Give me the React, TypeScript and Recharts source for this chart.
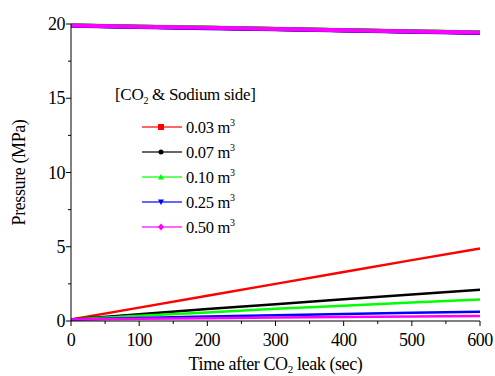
import React from "react";
import { LineChart, Line, XAxis, YAxis } from "recharts";

const times = [0, 100, 200, 300, 400, 500, 600];
const volumes = ["0.03", "0.07", "0.10", "0.25", "0.50"];
const colors = ["#ff0000", "#000000", "#00ff00", "#0000ff", "#ff00ff"];
const markers = ["square", "circle", "triangle", "triangleDown", "diamond"];

// CO2 side (low-pressure rising)
const co2_003 = [0.1, 0.9, 1.7, 2.5, 3.3, 4.1, 4.88];
const co2_007 = [0.1, 0.45, 0.8, 1.13, 1.47, 1.78, 2.1];
const co2_010 = [0.1, 0.35, 0.58, 0.82, 1.03, 1.24, 1.45];
const co2_025 = [0.1, 0.2, 0.3, 0.38, 0.47, 0.55, 0.63];
const co2_050 = [0.1, 0.15, 0.19, 0.23, 0.27, 0.3, 0.33];
// Sodium side (high-pressure falling)
const na_003 = [19.9, 19.82, 19.74, 19.66, 19.58, 19.5, 19.43];
const na_007 = [19.9, 19.82, 19.74, 19.66, 19.58, 19.5, 19.43];
const na_010 = [19.92, 19.84, 19.76, 19.68, 19.6, 19.52, 19.45];
const na_025 = [19.88, 19.8, 19.72, 19.64, 19.56, 19.48, 19.4];
const na_050 = [19.9, 19.82, 19.74, 19.66, 19.58, 19.5, 19.42];

const co2Series = [co2_003, co2_007, co2_010, co2_025, co2_050];
const naSeries = [na_003, na_007, na_010, na_025, na_050];

const xTicks = [0, 50, 100, 150, 200, 250, 300, 350, 400, 450, 500, 550, 600];
const yTicks = [0, 2.5, 5, 7.5, 10, 12.5, 15, 17.5, 20];

const data = times.map((t, i) => {
  const row: any = { t };
  co2Series.forEach((s, k) => (row["c" + k] = s[i]));
  naSeries.forEach((s, k) => (row["n" + k] = s[i]));
  return row;
});

const FONT = "Liberation Serif, Times New Roman, serif";

const XTick = (props: any) => {
  const { x, y, payload } = props;
  const major = payload.value % 100 === 0;
  return (
    <g>
      <line x1={x} y1={y} x2={x} y2={y + (major ? 5 : 3)} stroke="#000" strokeWidth={1} />
      {major && (
        <text x={x} y={y + 25} textAnchor="middle" style={{ fontFamily: FONT, fontSize: 18, letterSpacing: -0.5 }} fill="#000">
          {payload.value}
        </text>
      )}
    </g>
  );
};

const YTick = (props: any) => {
  const { x, y, payload } = props;
  const major = payload.value % 5 === 0;
  return (
    <g>
      <line x1={x} y1={y} x2={x - (major ? 5 : 3)} y2={y} stroke="#000" strokeWidth={1} />
      {major && (
        <text x={x - 6} y={y + 6} textAnchor="end" style={{ fontFamily: FONT, fontSize: 18, letterSpacing: -0.5 }} fill="#000">
          {payload.value}
        </text>
      )}
    </g>
  );
};

const Marker = ({ type, color }: { type: string; color: string }) => {
  const cx = 20, cy = 6;
  let m: any = null;
  if (type === "square") m = <rect x={cx - 3} y={cy - 3} width={6} height={6} fill={color} />;
  else if (type === "circle") m = <circle cx={cx} cy={cy} r={2.5} fill={color} />;
  else if (type === "triangle") m = <polygon points={`${cx - 3},${cy + 2.5} ${cx + 3},${cy + 2.5} ${cx},${cy - 3}`} fill={color} />;
  else if (type === "triangleDown") m = <polygon points={`${cx - 3},${cy - 2.5} ${cx + 3},${cy - 2.5} ${cx},${cy + 3}`} fill={color} />;
  else m = <polygon points={`${cx},${cy - 3.5} ${cx + 3},${cy} ${cx},${cy + 3.5} ${cx - 3},${cy}`} fill={color} />;
  return (
    <svg width={42} height={12} style={{ display: "block" }}>
      <line x1={1} y1={cy} x2={41} y2={cy} stroke={color} strokeOpacity={0.6} strokeWidth={2} />
      {m}
    </svg>
  );
};

const LegendBox = () => (
  <div style={{ position: "absolute", left: 115, top: 86, fontFamily: FONT, color: "#000", lineHeight: 1 }}>
    <div style={{ fontSize: 17, height: 28, whiteSpace: "nowrap", letterSpacing: -0.3 }}>
      [CO<sub style={{ fontSize: 10 }}>2</sub> &amp; Sodium side]
    </div>
    {volumes.map((v, i) => (
      <div key={v} style={{ display: "flex", alignItems: "center", height: 25, marginLeft: 26 }}>
        <Marker type={markers[i]} color={colors[i]} />
        <span style={{ fontSize: 16.5, marginLeft: 3, whiteSpace: "nowrap", letterSpacing: -0.3 }}>
          {v} m<sup style={{ fontSize: 10 }}>3</sup>
        </span>
      </div>
    ))}
  </div>
);

export default function App() {
  return (
    <div style={{ position: "absolute", left: 0, top: 0, width: 495, height: 376, background: "#fff" }}>
      <LineChart width={495} height={376} data={data} margin={{ top: 24, right: 15, bottom: 0, left: 0 }}>
        <XAxis
          dataKey="t"
          type="number"
          domain={[0, 600]}
          ticks={xTicks}
          interval={0}
          tick={<XTick />}
          tickLine={false}
          tickSize={0}
          tickMargin={0}
          height={55}
          axisLine={{ stroke: "#000", strokeWidth: 1 }}
          label={(p: any) => {
            const vb = p.viewBox;
            return (
              <text x={vb.x + vb.width / 2} y={vb.y + 49} textAnchor="middle" style={{ fontFamily: FONT, fontSize: 18, letterSpacing: -0.4 }} fill="#000">
                Time after CO<tspan fontSize={11} dy={3}>2</tspan>
                <tspan dy={-3}> leak (sec)</tspan>
              </text>
            );
          }}
        />
        <YAxis
          type="number"
          domain={[0, 20]}
          ticks={yTicks}
          interval={0}
          tick={<YTick />}
          tickLine={false}
          tickSize={0}
          tickMargin={0}
          width={71}
          axisLine={{ stroke: "#000", strokeWidth: 1 }}
          label={(p: any) => {
            const vb = p.viewBox;
            const cy = vb.y + vb.height / 2;
            return (
              <text x={25} y={cy} transform={`rotate(-90 25 ${cy})`} textAnchor="middle" style={{ fontFamily: FONT, fontSize: 18, letterSpacing: -0.4 }} fill="#000">
                Pressure (MPa)
              </text>
            );
          }}
        />
        {co2Series.map((_, k) => (
          <Line key={"c" + k} dataKey={"c" + k} stroke={colors[k]} strokeWidth={2.5} dot={false} isAnimationActive={false} legendType="none" />
        ))}
        {naSeries.map((_, k) => (
          <Line key={"n" + k} dataKey={"n" + k} stroke={colors[k]} strokeWidth={4} dot={false} isAnimationActive={false} legendType="none" />
        ))}
      </LineChart>
      <LegendBox />
    </div>
  );
}
